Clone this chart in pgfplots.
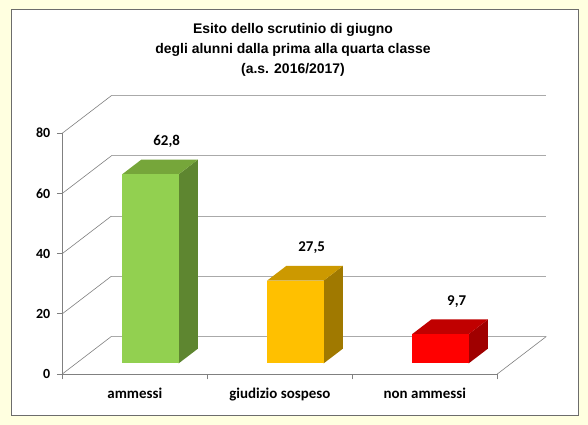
\documentclass[border=0pt]{standalone}
\usepackage{pgfplots}
\pgfplotsset{compat=1.18}
\usepackage{pgfplotstable}
\usepackage{fontspec}
\setmainfont{Carlito}
\newfontfamily\titlefont{Liberation Sans}
\definecolor{bgyellow}{RGB}{255,255,224}
\definecolor{gfront}{RGB}{146,208,80}
\definecolor{gtop}{RGB}{118,166,58}
\definecolor{gside}{RGB}{94,134,48}
\definecolor{yfront}{RGB}{255,192,0}
\definecolor{ytop}{RGB}{204,153,0}
\definecolor{yside}{RGB}{160,121,0}
\definecolor{rfront}{RGB}{255,0,0}
\definecolor{rtop}{RGB}{192,0,0}
\definecolor{rside}{RGB}{160,0,0}
\definecolor{gridc}{RGB}{170,170,170}
\definecolor{diagc}{RGB}{128,128,128}

\pgfplotstableread{
x v lab
0 62.8 62,8
1 27.5 27,5
2 9.7 9,7
}\datatable

\begin{document}
\begin{tikzpicture}
\useasboundingbox (0,0) rectangle (588bp,425bp);
\fill[bgyellow] (0,0) rectangle (588bp,425bp);
\filldraw[fill=white, draw=gray!85!black, line width=0.8bp] (11.7bp,10bp) rectangle (578.3bp,416bp);
\node[font=\titlefont\bfseries\fontsize{14}{20}\selectfont, align=center] at (293bp,375bp)
  {Esito dello scrutinio di giugno\\degli alunni dalla prima alla quarta classe\\(a.s. 2016/2017)};
\begin{axis}[
  at={(62.3bp,51bp)}, anchor=south west,
  x=145bp, y=3.01bp,
  xmin=-0.5, xmax=2.9, ymin=0, ymax=93,
  clip=false,
  axis x line*=bottom, axis y line*=left,
  axis line style={draw=none},
  tick align=outside,
  tick style={diagc, line width=0.6bp},
  major tick length=5.5bp,
  ytick={0,20,40,60,80},
  /pgf/number format/assume math mode=true,
  yticklabel style={font=\bfseries\fontsize{14}{16}\selectfont, xshift=-3bp},
  xtick={-0.5,0.5,1.5,2.5},
  xticklabels={},
  extra x ticks={0,1,2},
  extra x tick labels={ammessi,giudizio sospeso,non ammessi},
  extra x tick style={major tick length=0pt, xticklabel style={font=\bfseries\fontsize{15}{18}\selectfont, anchor=base, yshift=-25bp}},
]
% back wall gridlines
\addplot[gridc, line width=1bp] coordinates {(-0.162,12.46) (2.838,12.46)};
\addplot[gridc, line width=1bp] coordinates {(-0.162,32.46) (2.838,32.46)};
\addplot[gridc, line width=1bp] coordinates {(-0.162,52.46) (2.838,52.46)};
\addplot[gridc, line width=1bp] coordinates {(-0.162,72.46) (2.838,72.46)};
\addplot[gridc, line width=1bp] coordinates {(-0.162,92.46) (2.838,92.46)};
% side wall diagonals
\addplot[diagc, line width=0.6bp] coordinates {(-0.5,0) (-0.162,12.46)};
\addplot[diagc, line width=0.6bp] coordinates {(-0.5,20) (-0.162,32.46)};
\addplot[diagc, line width=0.6bp] coordinates {(-0.5,40) (-0.162,52.46)};
\addplot[diagc, line width=0.6bp] coordinates {(-0.5,60) (-0.162,72.46)};
\addplot[diagc, line width=0.6bp] coordinates {(-0.5,80) (-0.162,92.46)};
% floor
\addplot[diagc, line width=0.6bp] coordinates {(2.5,0) (2.838,12.46)};
\addplot[diagc, line width=0.6bp] coordinates {(-0.5,0) (2.5,0)};
\addplot[diagc, line width=0.6bp] coordinates {(-0.5,0) (-0.5,80)};
% bar 1
\addplot[draw=none, fill=gside] coordinates {(0.303,3.55) (0.4354,8.43) (0.4354,71.23) (0.303,66.35)} -- cycle;
\addplot[draw=none, fill=gtop] coordinates {(-0.087,66.35) (0.303,66.35) (0.4354,71.23) (0.0454,71.23)} -- cycle;
\addplot[draw=none, fill=gfront] coordinates {(-0.087,3.55) (0.303,3.55) (0.303,66.35) (-0.087,66.35)} -- cycle;
% bar 2
\addplot[draw=none, fill=yside] coordinates {(1.303,3.55) (1.4354,8.43) (1.4354,35.93) (1.303,31.05)} -- cycle;
\addplot[draw=none, fill=ytop] coordinates {(0.913,31.05) (1.303,31.05) (1.4354,35.93) (1.0454,35.93)} -- cycle;
\addplot[draw=none, fill=yfront] coordinates {(0.913,3.55) (1.303,3.55) (1.303,31.05) (0.913,31.05)} -- cycle;
% bar 3
\addplot[draw=none, fill=rside] coordinates {(2.303,3.55) (2.4354,8.43) (2.4354,18.13) (2.303,13.25)} -- cycle;
\addplot[draw=none, fill=rtop] coordinates {(1.913,13.25) (2.303,13.25) (2.4354,18.13) (2.0454,18.13)} -- cycle;
\addplot[draw=none, fill=rfront] coordinates {(1.913,3.55) (2.303,3.55) (2.303,13.25) (1.913,13.25)} -- cycle;
% value labels
\addplot[only marks, mark=none, point meta=explicit symbolic,
  nodes near coords, nodes near coords style={anchor=center, font=\bfseries\fontsize{15}{18}\selectfont, text=black}]
  table[x expr=\thisrow{x}+0.22, y expr=\thisrow{v}+14.5, meta=lab] {\datatable};
\end{axis}
\end{tikzpicture}
\end{document}
